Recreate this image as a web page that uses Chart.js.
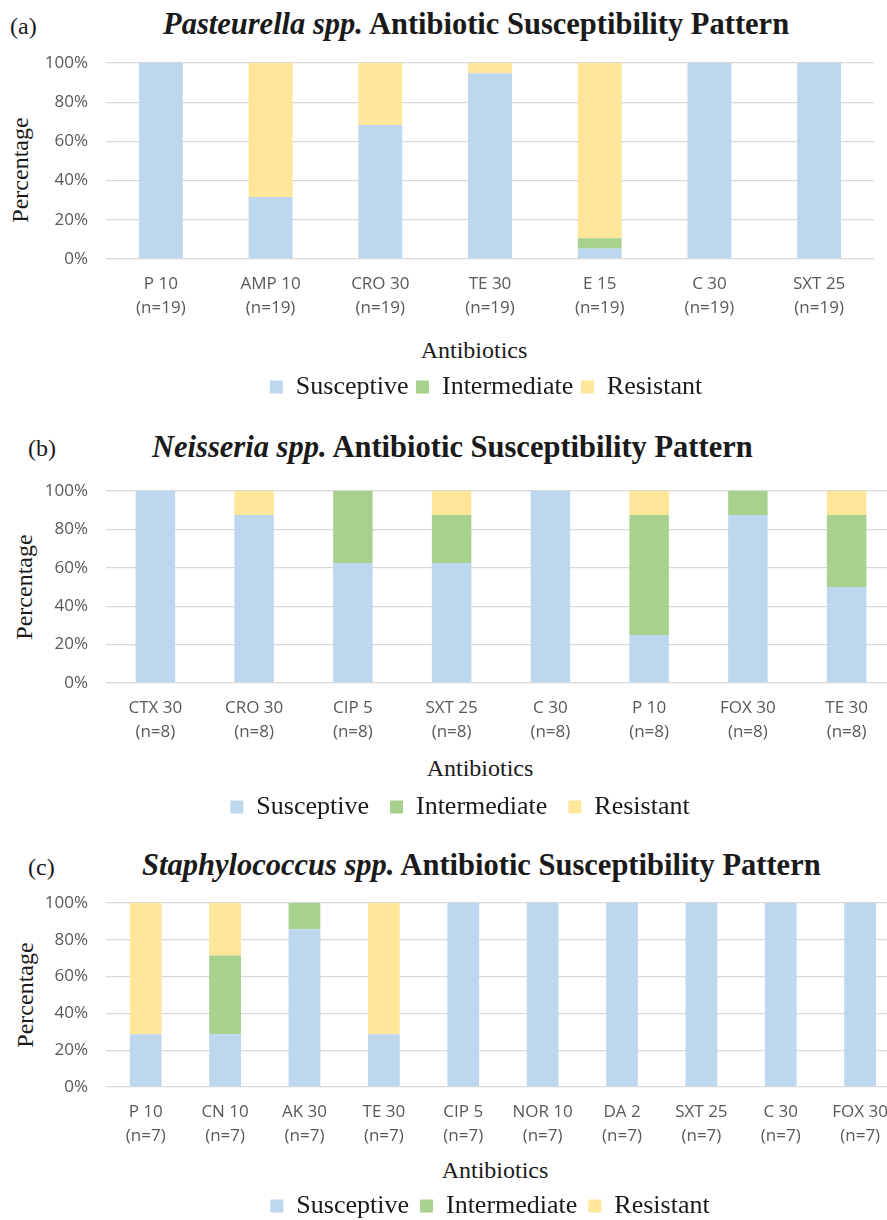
<!DOCTYPE html>
<html>
<head>
<meta charset="utf-8">
<title>Antibiotic Susceptibility Patterns</title>
<script src="https://cdn.jsdelivr.net/npm/chart.js@4.4.0/dist/chart.umd.min.js"></script>
<style>
  html, body { margin:0; padding:0; width:887px; height:1220px; overflow:hidden; background:#fff; }
  .txt { position:absolute; font-family:"Liberation Serif","Times New Roman",serif; color:#1a1a1a; line-height:1; white-space:nowrap; }
  .ttl { font-size:30.5px; font-weight:bold; }
  .lbl { font-size:24px; }
  .axt { font-size:24px; transform:translateX(-50%); }
  .yt  { font-size:24px; transform:translate(-50%,-50%) rotate(-90deg); }
  canvas { position:absolute; left:0; }
</style>
</head>
<body>

<div class="txt lbl" style="left:10px;top:14px">(a)</div>
<div class="txt ttl" style="left:163px;top:8.5px"><i>Pasteurella spp.</i> Antibiotic Susceptibility Pattern</div>
<div class="txt yt" style="left:20px;top:170px">Percentage</div>
<div class="txt axt" style="left:474px;top:338px">Antibiotics</div>
<canvas id="chart-a" width="874" height="377" style="top:33px"></canvas>

<div class="txt lbl" style="left:28px;top:436px">(b)</div>
<div class="txt ttl" style="left:152px;top:431.5px"><i>Neisseria spp.</i> Antibiotic Susceptibility Pattern</div>
<div class="txt yt" style="left:24px;top:587px">Percentage</div>
<div class="txt axt" style="left:480px;top:756px">Antibiotics</div>
<canvas id="chart-b" width="896" height="369" style="top:461px"></canvas>

<div class="txt lbl" style="left:28px;top:855px">(c)</div>
<div class="txt ttl" style="left:142px;top:849.5px"><i>Staphylococcus spp.</i> Antibiotic Susceptibility Pattern</div>
<div class="txt yt" style="left:25px;top:995px">Percentage</div>
<div class="txt axt" style="left:495px;top:1158px">Antibiotics</div>
<canvas id="chart-c" width="901" height="356" style="top:873px"></canvas>

<script>
'use strict';

// ---- data (percent of isolates) ----
const seriesNames = ['Susceptive', 'Intermediate', 'Resistant'];
const yTicks = [0, 20, 40, 60, 80, 100];

// (a) Pasteurella spp., n = 19
const pastDrugs   = ['P 10', 'AMP 10', 'CRO 30', 'TE 30', 'E 15', 'C 30', 'SXT 25'];
const pastN       = 19;
const pastSusc    = [100, 31.6, 68.4, 94.7, 5.3, 100, 100];
const pastInter   = [0, 0, 0, 0, 5.3, 0, 0];
const pastResist  = [0, 68.4, 31.6, 5.3, 89.4, 0, 0];

// (b) Neisseria spp., n = 8
const neisDrugs   = ['CTX 30', 'CRO 30', 'CIP 5', 'SXT 25', 'C 30', 'P 10', 'FOX 30', 'TE 30'];
const neisN       = 8;
const neisSusc    = [100, 87.5, 62.5, 62.5, 100, 25, 87.5, 50];
const neisInter   = [0, 0, 37.5, 25, 0, 62.5, 12.5, 37.5];
const neisResist  = [0, 12.5, 0, 12.5, 0, 12.5, 0, 12.5];

// (c) Staphylococcus spp., n = 7
const staphDrugs  = ['P 10', 'CN 10', 'AK 30', 'TE 30', 'CIP 5', 'NOR 10', 'DA 2', 'SXT 25', 'C 30', 'FOX 30'];
const staphN      = 7;
const staphSusc   = [28.6, 28.6, 85.7, 28.6, 100, 100, 100, 100, 100, 100];
const staphInter  = [0, 42.9, 14.3, 0, 0, 0, 0, 0, 0, 0];
const staphResist = [71.4, 28.6, 0, 71.4, 0, 0, 0, 0, 0, 0];

const COLOURS = ['#bdd7ee', '#a9d18e', '#ffe699'];
const TICK_FONT = { family: "'Open Sans', sans-serif", size: 17, lineHeight: 1.41 };

// legend is centred on the whole chart box, Excel centres it a bit off - nudge it sideways
const legendShift = {
  id: 'legendShift',
  afterLayout(chart, args, opts) {
    const lg = chart.legend;
    if (!lg || !opts.dx) return;
    lg.left += opts.dx;
    lg.right += opts.dx;
  }
};

function buildChart(id, drugs, n, susc, inter, resist, lay) {
  const labels = drugs.map(d => [d, '(n=' + n + ')']);
  const values = [susc, inter, resist];
  return new Chart(document.getElementById(id), {
    type: 'bar',
    data: {
      labels,
      datasets: seriesNames.map((name, i) => ({
        label: name,
        data: values[i],
        backgroundColor: COLOURS[i],
        borderWidth: 0,
        categoryPercentage: 1,
        barPercentage: 0.4,
      })),
    },
    plugins: [legendShift],
    options: {
      responsive: false,
      animation: false,
      events: [],
      layout: { padding: 0 },
      plugins: {
        tooltip: { enabled: false },
        legendShift: { dx: lay.legendDx },
        legend: {
          position: 'bottom',
          labels: {
            boxWidth: 13, boxHeight: 13, padding: lay.legendPad,
            color: '#1a1a1a',
            font: { family: "'Liberation Serif', 'Times New Roman', serif", size: 26 },
          },
        },
      },
      scales: {
        x: {
          stacked: true,
          grid: { display: false, drawTicks: false },
          border: { display: false },
          ticks: { color: '#595959', font: TICK_FONT, padding: 13, maxRotation: 0, autoSkip: false },
          afterFit: s => { s.height = lay.xHeight; },
        },
        y: {
          stacked: true,
          min: yTicks[0], max: yTicks[yTicks.length - 1],
          grid: { color: '#d9d9d9', lineWidth: 1.3, drawTicks: false },
          border: { display: false },
          ticks: {
            stepSize: yTicks[1] - yTicks[0],
            color: '#595959', font: TICK_FONT, padding: 18,
            callback: v => v + '%',
          },
          afterFit: s => { s.width = 106; },
        },
      },
    },
  });
}

buildChart('chart-a', pastDrugs, pastN, pastSusc, pastInter, pastResist,
  { xHeight: 107.5, legendPad: 7.5, legendDx: 49 });
buildChart('chart-b', neisDrugs, neisN, neisSusc, neisInter, neisResist,
  { xHeight: 90, legendPad: 21, legendDx: 12 });
buildChart('chart-c', staphDrugs, staphN, staphSusc, staphInter, staphResist,
  { xHeight: 95, legendPad: 11, legendDx: 39.5 });
</script>
</body>
</html>
